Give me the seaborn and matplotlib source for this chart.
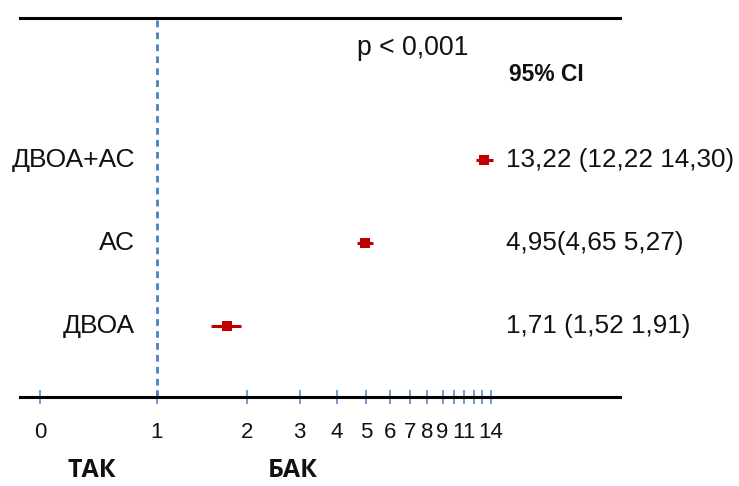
import numpy as np
import pandas as pd
import matplotlib
matplotlib.use("Agg")
import matplotlib.pyplot as plt
import matplotlib.transforms as mtransforms
import seaborn as sns

# Odds ratios with 95% confidence intervals
groups = ["ДВОА", "АС", "ДВОА+АС"]
odds_ratio = [1.71, 4.95, 13.22]
ci_low = [1.52, 4.65, 12.22]
ci_high = [1.91, 5.27, 14.30]
label_gap = ["\u0020", "", "\u0020"]

tick_values = [0, 1, 2, 3, 4, 5, 6, 7, 8, 9, 10, 11, 12, 13, 14]
tick_labels = ["0", "1", "2", "3", "4", "5", "6", "7", "8", "9", "", "11", "", "", "14"]

p_text = "p < 0,001"
ci_title = "95% CI"
left_side = "ТАК"
right_side = "БАК"

df = pd.DataFrame({
    "group": groups,
    "or": odds_ratio,
    "lo": ci_low,
    "hi": ci_high,
})
df["row"] = np.arange(1, len(df) + 1)

# Axis scale: linear below 1, logarithmic from 1 to 9, compressed log above 9
LN9 = np.log(9.0)
K_LOW = 0.9
K_HIGH = 0.836


def forward(v):
    v = np.asarray(v, dtype=float)
    low = (v - 1.0) * K_LOW
    mid = np.log(np.clip(v, 1.0, None))
    high = LN9 + K_HIGH * (np.log(np.clip(v, 9.0, None)) - LN9)
    return np.where(v < 1.0, low, np.where(v <= 9.0, mid, high))


def inverse(u):
    u = np.asarray(u, dtype=float)
    low = 1.0 + u / K_LOW
    mid = np.exp(np.clip(u, 0.0, LN9))
    high = 9.0 * np.exp((np.clip(u, LN9, None) - LN9) / K_HIGH)
    return np.where(u < 0.0, low, np.where(u <= LN9, mid, high))


sns.set_theme(style="white")
plt.rcParams["font.family"] = ["Liberation Sans", "DejaVu Sans"]

RED = "#c00000"
BLUE = "#4a80c4"

fig = plt.figure(figsize=(7.39, 4.86), dpi=100)
ax = fig.add_axes([20 / 739, 1 - 397 / 486, 600 / 739, 379 / 486])
ax.set_xscale("function", functions=(forward, inverse))

# reference line at OR = 1
ax.axvline(1, color=BLUE, lw=2.0, linestyle=(0, (2.4, 1.9)), zorder=1)

# confidence intervals and point estimates
ax.hlines(df["row"], df["lo"], df["hi"], color=RED, lw=2.2, zorder=2)
sns.scatterplot(data=df, x="or", y="row", marker="s", s=62, color=RED,
                linewidth=0, ax=ax, zorder=3, legend=False)

ax.set_xlim(-0.171, 46.1)
ax.set_ylim(0.145, 4.711)

ax.set_xticks(tick_values)
ax.set_xticklabels(tick_labels, fontsize=16)
ax.xaxis.set_minor_locator(matplotlib.ticker.NullLocator())
ax.tick_params(axis="x", direction="inout", length=10.5, width=1.1,
               color=BLUE, pad=13, labelcolor="#111111", bottom=True)
ax.set_yticks([])
ax.set_xlabel("")
ax.set_ylabel("")

for side in ["left", "right"]:
    ax.spines[side].set_visible(False)
for side in ["top", "bottom"]:
    ax.spines[side].set_visible(True)
    ax.spines[side].set_color("black")
    ax.spines[side].set_linewidth(2.2)

# group names on the left and estimates on the right
trans = mtransforms.blended_transform_factory(ax.transAxes, ax.transData)


def fmt(v):
    return f"{v:.2f}".replace(".", ",")


for _, r in df.iterrows():
    ax.text(0.1917, r["row"], r["group"], transform=trans, ha="right",
            va="center", fontsize=19, color="#111111")
for i, r in df.iterrows():
    label = f"{fmt(r['or'])}{label_gap[i]}({fmt(r['lo'])} {fmt(r['hi'])})"
    ax.text(0.81, r["row"], label, transform=trans, ha="left",
            va="center", fontsize=18.8, color="#111111")

ax.text(0.562, 0.921, p_text, transform=ax.transAxes, ha="left",
        va="center", fontsize=19.2, color="#111111")
ax.text(0.815, 0.85, ci_title, transform=ax.transAxes, ha="left",
        va="center", fontsize=16.5, fontweight="bold", color="#111111")

for txt, xpos in [(left_side, 0.12), (right_side, 0.455)]:
    ax.text(xpos, -0.193, txt, transform=ax.transAxes, ha="center",
            va="center", fontsize=18, fontweight="bold", color="#111111",
            family=["Open Sans", "DejaVu Sans"])

fig.savefig("out.png", dpi=100, facecolor="white")
